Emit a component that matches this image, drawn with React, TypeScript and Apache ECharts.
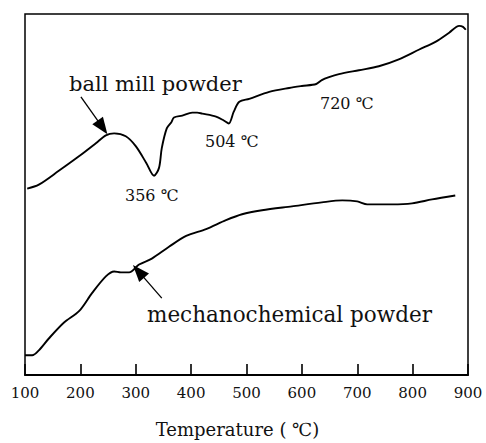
import React, { useEffect, useRef } from "react";
import * as echarts from "echarts";

// Temperature (°C) values along each DTA trace
const ballMillX = [104, 125, 161, 198, 228, 246, 261, 282, 300, 319, 333, 342, 347, 356, 364, 369, 384, 402, 411, 420, 445, 459, 468, 477, 487, 505, 541, 577, 600, 626, 636, 649, 667, 703, 739, 775, 812, 842, 866, 884, 891, 896];
// signal (arbitrary units)
const ballMillY = [189, 193, 207, 222, 235, 243, 245, 242, 232, 215, 202, 210, 230, 250, 256, 261, 263, 266, 266, 265, 262, 258, 255, 267, 277, 280, 287, 291, 293, 295, 299, 302, 305, 309, 313, 320, 330, 338, 347, 354, 353, 350];

const mechX = [100, 113, 125, 143, 170, 198, 221, 246, 261, 273, 288, 306, 329, 360, 391, 427, 463, 492, 528, 582, 636, 673, 700, 718, 763, 799, 835, 877];
const mechY = [20, 20, 25, 37, 53, 65, 83, 100, 105, 104, 104, 112, 118, 130, 141, 148, 157, 163, 167, 171, 175, 177, 176, 173, 173, 174, 178, 182];

const xTicks = [100, 200, 300, 400, 500, 600, 700, 800, 900];

// arrow annotations: [tailX, tailY, headX, headY] in data units
const ballArrow = [201, 282, 240, 251];
const mechArrow = [347, 78, 305, 105];

const FONT = "'DejaVu Serif', 'Liberation Serif', serif";

export default function App() {
  const ref = useRef<HTMLDivElement>(null);
  useEffect(() => {
    if (!ref.current) return;
    const chart = echarts.init(ref.current, undefined, { renderer: "svg" });
    const arrowLine = (a: number[]) => ({
      silent: true,
      symbol: ["none", "triangle"],
      symbolSize: [13, 17],
      label: { show: false },
      lineStyle: { color: "#000", width: 1.3, type: "solid" },
      data: [[{ coord: [a[0], a[1]] }, { coord: [a[2], a[3]] }]],
    });
    chart.setOption({
      animation: false,
      backgroundColor: "#fff",
      grid: {
        left: 25,
        right: 18,
        top: 14,
        bottom: 63,
        show: true,
        borderColor: "#000",
        borderWidth: 1.5,
      },
      xAxis: {
        type: "value",
        min: 100,
        max: 900,
        interval: 100,
        name: "Temperature ( ℃)",
        nameLocation: "middle",
        nameGap: 45,
        nameTextStyle: { fontFamily: FONT, fontSize: 18, color: "#111", padding: [0, 18, 0, 0] },
        axisLine: { show: true, lineStyle: { color: "#000", width: 2 } },
        axisTick: { show: true, inside: true, length: 11, lineStyle: { color: "#000", width: 1.6 } },
        axisLabel: {
          fontFamily: FONT,
          fontSize: 15,
          color: "#111",
          margin: 10,
          formatter: (v: number) => (xTicks.includes(v) ? String(v) : ""),
        },
        splitLine: { show: false },
      },
      yAxis: {
        type: "value",
        min: 0,
        max: 366,
        show: false,
      },
      series: [
        {
          name: "ball mill powder",
          type: "line",
          data: ballMillX.map((x, i) => [x, ballMillY[i]]),
          symbol: "none",
          smooth: 0.3,
          lineStyle: { color: "#000", width: 1.9 },
          markLine: arrowLine(ballArrow),
        },
        {
          name: "mechanochemical powder",
          type: "line",
          data: mechX.map((x, i) => [x, mechY[i]]),
          symbol: "none",
          smooth: 0.3,
          lineStyle: { color: "#000", width: 1.9 },
          markLine: arrowLine(mechArrow),
        },
      ],
      graphic: [
        { type: "text", left: 69, top: 73, style: { text: "ball mill powder", font: `21px ${FONT}`, fill: "#111" } },
        { type: "text", left: 125, top: 187, style: { text: "356 ℃", font: `16px ${FONT}`, fill: "#111" } },
        { type: "text", left: 205, top: 133, style: { text: "504 ℃", font: `16px ${FONT}`, fill: "#111" } },
        { type: "text", left: 320, top: 95, style: { text: "720 ℃", font: `16px ${FONT}`, fill: "#111" } },
        { type: "text", left: 147, top: 303, style: { text: "mechanochemical powder", font: `21.5px ${FONT}`, fill: "#111" } },
      ],
    });
    return () => chart.dispose();
  }, []);
  return <div ref={ref} style={{ width: 486, height: 443, position: "absolute", left: 0, top: 0 }} />;
}
